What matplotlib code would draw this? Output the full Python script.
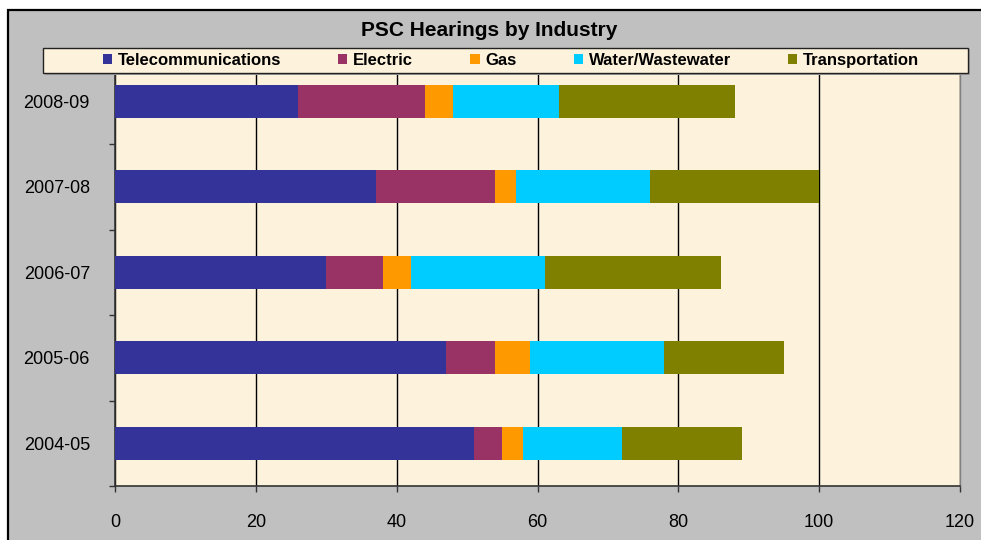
import matplotlib
matplotlib.use("Agg")
import matplotlib.pyplot as plt
from matplotlib.patches import Rectangle
import numpy as np

# Data
years = ["2004-05", "2005-06", "2006-07", "2007-08", "2008-09"]
industries = ["Telecommunications", "Electric", "Gas", "Water/Wastewater", "Transportation"]
telecom = [51, 47, 30, 37, 26]
electric = [4, 7, 8, 17, 18]
gas = [3, 5, 4, 3, 4]
water = [14, 19, 19, 19, 15]
transport = [17, 17, 25, 24, 25]
series = [telecom, electric, gas, water, transport]
colors = ["#333399", "#993366", "#FF9900", "#00CCFF", "#808000"]
x_ticks = [0, 20, 40, 60, 80, 100, 120]

plt.rcParams['font.family'] = ['Liberation Sans', 'DejaVu Sans']

W, H = 981, 540
fig = plt.figure(figsize=(W / 100, H / 100), dpi=100, facecolor="white")

# outer gray chart area with black border
fig.patches.append(Rectangle((8 / W, -0.1), 1.2, 1 - 10 / H + 0.1, transform=fig.transFigure,
                             facecolor="#C0C0C0", edgecolor="black", linewidth=1.6, zorder=0))

ax = fig.add_axes([115 / W, 54 / H, 845 / W, 427.5 / H])
ax.set_zorder(2)
ax.set_facecolor("#FDF2DC")

ypos = np.arange(len(years))
left = np.zeros(len(years))
handles = []
for vals, col, name in zip(series, colors, industries):
    b = ax.barh(ypos, vals, left=left, height=0.386, color=col, label=name,
                edgecolor="none", zorder=3)
    handles.append(b)
    left = left + np.array(vals)

ax.set_xlim(0, 120)
ax.set_ylim(-0.5, len(years) - 0.5)
ax.set_xticks(x_ticks)
ax.set_xticklabels([str(t) for t in x_ticks], fontsize=13)
ax.xaxis.grid(True, color="black", linewidth=1.0, zorder=1)
ax.set_axisbelow(True)
ax.tick_params(axis="x", direction="out", length=4.5, width=1, color="#333333", pad=16)

ax.set_yticks(ypos)
ax.set_yticklabels(years, fontsize=13)
ax.set_yticks(np.arange(-0.5, len(years) + 0.5, 1), minor=True)
ax.tick_params(axis="y", which="major", length=0, pad=18)
ax.tick_params(axis="y", which="minor", direction="out", length=4.5, width=1, color="#333333")

for s in ["left", "bottom"]:
    ax.spines[s].set_color("#333333")
    ax.spines[s].set_linewidth(1.2)
ax.spines["right"].set_color("#808080")
ax.spines["right"].set_linewidth(1.0)
ax.spines["top"].set_visible(False)

# title
fig.text(489 / W, 1 - 30 / H, "PSC Hearings by Industry", ha="center", va="center",
         fontsize=15, fontweight="bold")

# legend box
fig.patches.append(Rectangle((45 / W, 1 - 75 / H), 925 / W, 26 / H, transform=fig.transFigure,
                             facecolor="#A0A0A0", edgecolor="none", zorder=4))
fig.patches.append(Rectangle((43 / W, 1 - 73 / H), 925 / W, 25 / H, transform=fig.transFigure,
                             facecolor="#FDF2DC", edgecolor="#222222", linewidth=1.0, zorder=5))
leg = fig.legend(handles=handles, labels=industries, loc="center", ncol=5, mode="expand",
                 bbox_to_anchor=(101 / W, 1 - 73 / H, 820 / W, 25 / H),
                 frameon=False, handlelength=0.55, handleheight=0.55,
                 handletextpad=0.35, borderaxespad=0, borderpad=0.1,
                 prop={"weight": "bold", "size": 12})
leg.set_zorder(6)

fig.savefig("out.png", dpi=100, facecolor=fig.get_facecolor())
